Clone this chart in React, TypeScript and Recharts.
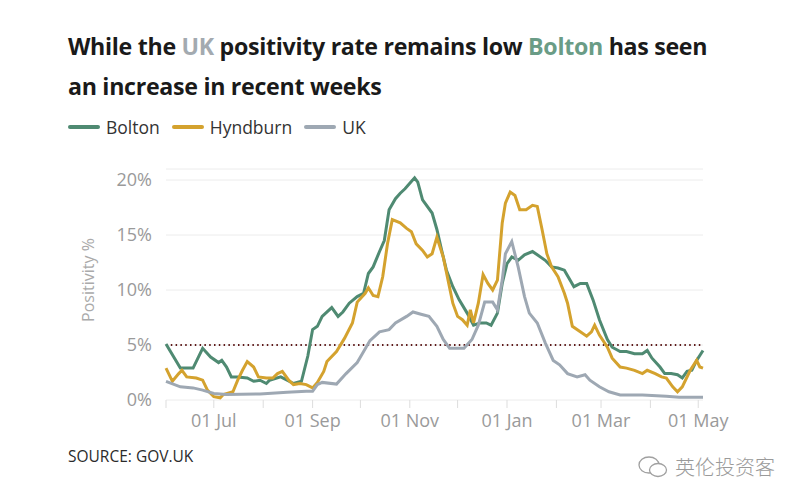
import { LineChart, Line, XAxis, YAxis, CartesianGrid, ReferenceLine } from 'recharts'

// days since 01 Jun 2020, positivity %
const bolton: [number, number][] = [
  [0, 5.1], [9, 2.9], [17, 2.9], [23, 4.7], [28, 3.9], [33, 3.4], [35, 3.6], [38, 3.0],
  [41, 2.1], [45, 2.1], [51, 2.0], [55, 1.7], [59, 1.8], [63, 1.5], [65, 1.8], [72, 2.1],
  [76, 1.8], [80, 1.5], [85, 1.7], [89, 4.0], [92, 6.4], [95, 6.7], [98, 7.6], [104, 8.4],
  [108, 7.6], [111, 8.0], [115, 8.8], [120, 9.4], [124, 9.7], [127, 11.5], [130, 12.1],
  [134, 13.5], [137, 14.5], [140, 17.3], [144, 18.3], [147, 18.8], [150, 19.2], [153, 19.7],
  [156, 20.2], [158, 19.8], [161, 18.2], [167, 17.0], [170, 15.5], [173, 13.6], [176, 11.8],
  [180, 10.3], [184, 9.1], [189, 7.9], [193, 6.8], [197, 7.0], [201, 7.0], [204, 6.8],
  [208, 7.9], [211, 10.6], [214, 12.4], [217, 13.0], [221, 12.7], [225, 13.2], [230, 13.5],
  [233, 13.2], [238, 12.7], [242, 12.1], [246, 12.0], [250, 11.8], [256, 10.3], [260, 10.6],
  [264, 10.6], [268, 9.1], [272, 7.3], [277, 5.5], [280, 4.8], [285, 4.4], [289, 4.4],
  [294, 4.2], [299, 4.2], [302, 4.5], [305, 3.8], [310, 3.0], [313, 2.4], [317, 2.4],
  [321, 2.3], [324, 2.0], [327, 2.6], [330, 2.7], [333, 3.6], [337, 4.5],
]

const hyndburn: [number, number][] = [
  [0, 2.9], [4, 1.7], [8, 2.4], [10, 2.7], [13, 2.1], [19, 2.0], [23, 1.8], [26, 0.9],
  [30, 0.3], [34, 0.2], [36, 0.5], [42, 0.75], [45, 1.8], [48, 2.7], [51, 3.5], [55, 3.0],
  [58, 2.1], [63, 2.0], [67, 2.0], [70, 2.4], [73, 2.6], [77, 1.8], [80, 1.4], [84, 1.5],
  [88, 1.4], [92, 1.1], [95, 1.6], [99, 2.6], [101, 3.5], [107, 4.4], [112, 5.6], [117, 7.0],
  [120, 8.9], [125, 9.7], [127, 10.2], [130, 9.5], [133, 9.4], [136, 11.2], [139, 14.2],
  [142, 16.4], [147, 16.1], [151, 15.6], [154, 15.3], [157, 14.2], [161, 13.6], [164, 13.0],
  [167, 13.3], [170, 14.8], [174, 13.0], [177, 10.9], [180, 8.8], [183, 7.6], [186, 7.3],
  [189, 6.8], [191, 8.2], [193, 7.0], [196, 8.8], [199, 11.4], [202, 10.6], [205, 10.0],
  [208, 10.9], [211, 16.1], [213, 17.9], [216, 18.9], [219, 18.6], [222, 17.3], [226, 17.3],
  [230, 17.7], [233, 17.6], [236, 15.5], [239, 13.3], [242, 12.1], [246, 11.2], [250, 9.7],
  [252, 8.8], [255, 6.7], [260, 6.2], [264, 5.8], [267, 6.2], [269, 6.8], [272, 5.9],
  [277, 4.8], [280, 3.8], [285, 3.0], [289, 2.9], [294, 2.7], [299, 2.4], [302, 2.7],
  [307, 2.4], [311, 2.1], [314, 2.0], [318, 1.2], [321, 0.75], [324, 1.2], [329, 2.7],
  [333, 3.6], [335, 3.0], [337, 2.9],
]

const uk: [number, number][] = [
  [0, 1.7], [9, 1.2], [17, 1.1], [23, 0.9], [30, 0.6], [38, 0.5], [59, 0.55], [76, 0.7],
  [88, 0.8], [92, 0.8], [95, 1.4], [98, 1.6], [107, 1.45], [113, 2.4], [120, 3.4], [128, 5.4],
  [134, 6.2], [140, 6.4], [144, 7.0], [151, 7.6], [155, 8.0], [160, 7.8], [165, 7.6],
  [170, 6.7], [174, 5.5], [178, 4.7], [182, 4.7], [187, 4.7], [192, 5.5], [196, 6.8],
  [200, 8.9], [205, 8.9], [208, 8.2], [211, 10.9], [213, 13.3], [217, 14.4], [221, 12.1],
  [225, 9.4], [228, 7.9], [233, 7.0], [238, 5.2], [243, 3.6], [247, 3.2], [252, 2.4],
  [258, 2.1], [263, 2.3], [266, 1.8], [272, 1.2], [278, 0.75], [285, 0.45], [299, 0.45],
  [314, 0.35], [322, 0.25], [337, 0.25],
]

const monthTicks = [0, 30, 61, 92, 122, 153, 183, 214, 245, 273, 304, 334]
const monthLabels = ['', '01 Jul', '', '01 Sep', '', '01 Nov', '', '01 Jan', '', '01 Mar', '', '01 May']
const yTicks = [0, 5, 10, 15, 20]
const threshold = 5

const GREEN = '#4f8a72'
const GOLD = '#d4a22e'
const GREY = '#9ea8b3'
const FONT = '"Open Sans", sans-serif'

const toRows = (pts: [number, number][]) => pts.map(([day, v]) => ({ day, v }))

function LegendItem({ color, label }: { color: string; label: string }) {
  return (
    <span style={{ display: 'inline-flex', alignItems: 'center', marginRight: 12 }}>
      <span style={{ width: 32, height: 4, borderRadius: 2, background: color, marginRight: 6 }} />
      {label}
    </span>
  )
}

export default function App() {
  return (
    <div
      style={{
        position: 'fixed',
        left: 0,
        top: 0,
        width: 800,
        height: 504,
        background: '#fff',
        fontFamily: FONT,
        overflow: 'hidden',
      }}
    >
      <div style={{ position: 'absolute', left: 0, top: 0 }}>
        <LineChart width={800} height={504} margin={{ top: 169, right: 97, bottom: 64, left: 106 }}>
          <CartesianGrid stroke="#ececec" vertical={false} />
          <XAxis
            type="number"
            dataKey="day"
            domain={[0, 337]}
            ticks={monthTicks}
            tickFormatter={(d: number) => monthLabels[monthTicks.indexOf(d)] ?? ''}
            tick={{ fontSize: 18, fill: '#9a9a9a', fontFamily: FONT }}
            tickLine={{ stroke: '#dddddd' }}
            tickSize={8}
            tickMargin={6}
            axisLine={false}
            height={40}
            interval={0}
          />
          <YAxis
            domain={[0, 21]}
            ticks={yTicks}
            tickFormatter={(v: number) => v + '%'}
            tick={{ fontSize: 18, fill: '#9a9a9a', fontFamily: FONT }}
            tickLine={false}
            axisLine={false}
            tickSize={0}
            tickMargin={14}
            width={60}
          />
          <ReferenceLine
            y={threshold}
            stroke="#5e1b1b"
            strokeWidth={2.2}
            strokeDasharray="1.5 3.3"
          />
          <Line
            data={toRows(bolton)}
            dataKey="v"
            type="linear"
            stroke={GREEN}
            strokeWidth={3}
            dot={false}
            isAnimationActive={false}
          />
          <Line
            data={toRows(hyndburn)}
            dataKey="v"
            type="linear"
            stroke={GOLD}
            strokeWidth={3}
            dot={false}
            isAnimationActive={false}
          />
          <Line
            data={toRows(uk)}
            dataKey="v"
            type="linear"
            stroke={GREY}
            strokeWidth={3}
            dot={false}
            isAnimationActive={false}
          />
        </LineChart>
      </div>

      <div
        style={{
          position: 'absolute',
          left: 68,
          top: 26,
          width: 700,
          fontSize: 23.2,
          fontWeight: 700,
          lineHeight: '40px',
          color: '#1a1a1a',
          letterSpacing: -0.3,
        }}
      >
        <div>
          While the <span style={{ color: '#a3aab0' }}>UK</span> positivity rate remains low{' '}
          <span style={{ color: '#6a9c86' }}>Bolton</span> has seen
        </div>
        <div>an increase in recent weeks</div>
      </div>

      <div
        style={{
          position: 'absolute',
          left: 68,
          top: 115,
          fontSize: 17.5,
          color: '#333',
          display: 'flex',
        }}
      >
        <LegendItem color={GREEN} label="Bolton" />
        <LegendItem color={GOLD} label="Hyndburn" />
        <LegendItem color={GREY} label="UK" />
      </div>

      <div
        style={{
          position: 'absolute',
          left: 88,
          top: 280,
          transform: 'translate(-50%, -50%) rotate(-90deg)',
          fontSize: 16,
          color: '#aaaaaa',
          whiteSpace: 'nowrap',
        }}
      >
        Positivity %
      </div>

      <div style={{ position: 'absolute', left: 68, top: 445, fontSize: 15.5, color: '#2a2a2a' }}>
        SOURCE: GOV.UK
      </div>

      <div
        style={{
          position: 'absolute',
          left: 637,
          top: 452,
          fontSize: 20,
          color: '#9a9a9a',
          display: 'flex',
          alignItems: 'center',
          fontFamily: '"Noto Sans CJK SC", sans-serif',
          fontWeight: 300,
        }}
      >
        <svg width={32} height={24} style={{ marginRight: 6 }}>
          <ellipse cx={12} cy={10} rx={10} ry={8} fill="none" stroke="#a0a0a0" strokeWidth={1.3} />
          <ellipse cx={21} cy={15} rx={8.5} ry={6.5} fill="#fff" stroke="#a0a0a0" strokeWidth={1.3} />
        </svg>
        英伦投资客
      </div>
    </div>
  )
}
